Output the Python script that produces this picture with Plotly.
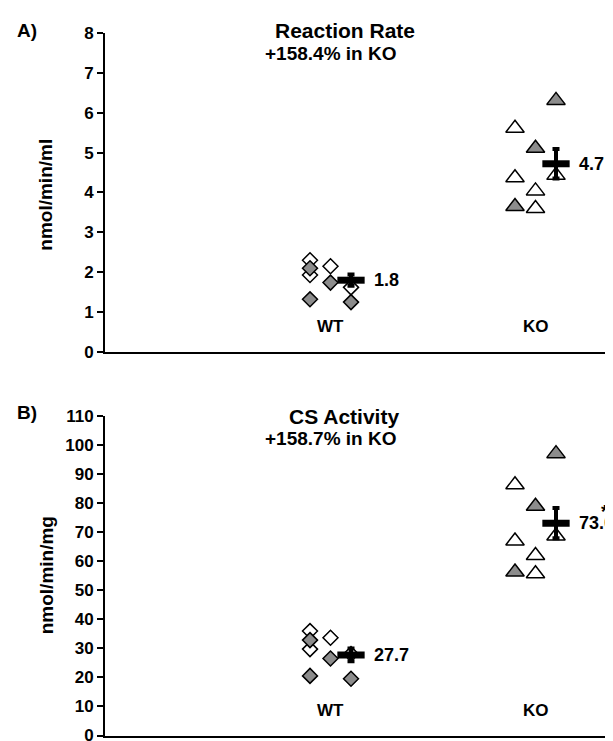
import plotly.graph_objects as go

# ---------------- data ----------------
groups = ["WT", "KO"]
group_x = [1.0, 2.0]          # scatter x of each group (Excel-style x axis starting at 0)

# Panel A: Reaction Rate (nmol/min/ml)
a_wt_open = [2.30, 1.93, 2.15, 1.62]
a_wt_open_slot = [0, 0, 1, 2]
a_wt_gray = [2.10, 1.32, 1.74, 1.25]
a_wt_gray_slot = [0, 0, 1, 2]
a_ko_open = [5.61, 4.37, 4.04, 3.60, 4.43]
a_ko_open_slot = [0, 0, 1, 1, 2]
a_ko_gray = [6.31, 5.11, 3.65]
a_ko_gray_slot = [2, 1, 0]
a_means = [1.8, 4.72]
a_mean_labels = ["1.8", "4.7"]
a_err = [0.14, 0.37]
a_title = "Reaction Rate"
a_change = "+158.4% in KO"
a_unit = "nmol/min/ml"

# Panel B: CS Activity (nmol/min/mg)
b_wt_open = [35.9, 29.7, 33.6, 28.0]
b_wt_open_slot = [0, 0, 1, 2]
b_wt_gray = [32.8, 20.5, 26.5, 19.5]
b_wt_gray_slot = [0, 0, 1, 2]
b_ko_open = [86.2, 66.9, 61.9, 55.6, 68.6]
b_ko_open_slot = [0, 0, 1, 1, 2]
b_ko_gray = [96.9, 78.8, 56.2]
b_ko_gray_slot = [2, 1, 0]
b_means = [27.7, 73.0]
b_mean_labels = ["27.7", "73.0"]
b_err = [2.2, 5.2]
b_title = "CS Activity"
b_change = "+158.7% in KO"
b_unit = "nmol/min/mg"

a_ticks = list(range(0, 9))
b_ticks = list(range(0, 111, 10))

# ---------------- styling ----------------
W, H = 613, 741
ML, MR, MT, MB = 97, 3, 25, 3
FONT = "Liberation Sans, Arial, sans-serif"
GRAY = "#8c8c8c"
JIT = 0.1
GX = dict(zip(groups, group_x))


def xs(group, slots):
    return [GX[group] + s * JIT for s in slots]


fig = go.Figure()


def add_points(group, vals, slots, fill, symbol, size, xa, ya):
    fig.add_trace(go.Scatter(
        x=xs(group, slots), y=vals, mode="markers", xaxis=xa, yaxis=ya,
        marker=dict(symbol=symbol, size=size, color=fill,
                    line=dict(color="black", width=1.5)),
        showlegend=False, hoverinfo="skip"))


def add_mean(means, errs, xa, ya):
    fig.add_trace(go.Scatter(
        x=[GX[g] + 2 * JIT for g in groups], y=means, mode="markers",
        xaxis=xa, yaxis=ya,
        marker=dict(symbol="line-ew", size=19.5, color="black",
                    line=dict(color="black", width=7)),
        error_y=dict(type="data", array=errs, visible=True,
                     color="black", thickness=4, width=3.5),
        showlegend=False, hoverinfo="skip"))


DIA, TRI = 11.5, 16
# Panel A
add_points("WT", a_wt_open, a_wt_open_slot, "white", "diamond", DIA, "x", "y")
add_points("WT", a_wt_gray, a_wt_gray_slot, GRAY, "diamond", DIA, "x", "y")
add_points("KO", a_ko_open, a_ko_open_slot, "white", "triangle-up", TRI, "x", "y")
add_points("KO", a_ko_gray, a_ko_gray_slot, GRAY, "triangle-up", TRI, "x", "y")
add_mean(a_means, a_err, "x", "y")

# Panel B
add_points("WT", b_wt_open, b_wt_open_slot, "white", "diamond", DIA, "x2", "y2")
add_points("WT", b_wt_gray, b_wt_gray_slot, GRAY, "diamond", DIA, "x2", "y2")
add_points("KO", b_ko_open, b_ko_open_slot, "white", "triangle-up", TRI, "x2", "y2")
add_points("KO", b_ko_gray, b_ko_gray_slot, GRAY, "triangle-up", TRI, "x2", "y2")
add_mean(b_means, b_err, "x2", "y2")

xr = [0, (W - ML - MR) / 205.0]
xcommon = dict(range=xr, showline=True, linecolor="black", linewidth=2,
               showticklabels=False, ticks="", showgrid=False, zeroline=False,
               fixedrange=True)
ycommon = dict(showline=True, linecolor="black", linewidth=2, ticks="outside",
               ticklen=6, tickwidth=2, tickcolor="black", showgrid=False,
               zeroline=False, tickfont=dict(family=FONT, size=17, color="black"))

ph = H - MT - MB
dom_a = [(H - MB - 348.5) / ph, 1.0]
dom_b = [(H - MB - 737.5) / ph, (H - MB - 413) / ph]

fig.update_layout(
    width=W, height=H,
    margin=dict(l=ML, r=MR, t=MT, b=MB),
    plot_bgcolor="white", paper_bgcolor="white",
    font=dict(family=FONT, color="black"),
    xaxis=dict(domain=[0, 1], anchor="y", **xcommon),
    xaxis2=dict(domain=[0, 1], anchor="y2", **xcommon),
    yaxis=dict(domain=dom_a, anchor="x", range=[0, 8], tickvals=a_ticks,
               ticktext=[f"<b>{t}</b>" for t in a_ticks], **ycommon),
    yaxis2=dict(domain=dom_b, anchor="x2", range=[0, 110], tickvals=b_ticks,
                ticktext=[f"<b>{t}</b>" for t in b_ticks], **ycommon),
)

ann = []


def px_ann(x, y, text, size, angle=0):
    ann.append(dict(x=(x - ML) / (W - ML - MR), y=(H - MB - y) / ph,
                    xref="paper", yref="paper", text=f"<b>{text}</b>",
                    xanchor="center", yanchor="middle", textangle=angle,
                    showarrow=False, font=dict(family=FONT, size=size)))


# group labels
for xa, ya, yv in (("x", "y", 0.63), ("x2", "y2", 8.6)):
    for g in groups:
        ann.append(dict(x=GX[g] + JIT, y=yv, xref=xa, yref=ya, text=f"<b>{g}</b>",
                        showarrow=False, xanchor="center", yanchor="middle",
                        font=dict(family=FONT, size=17)))
# mean labels
for xa, ya, means, labs in (("x", "y", a_means, a_mean_labels),
                            ("x2", "y2", b_means, b_mean_labels)):
    for g, m, lab in zip(groups, means, labs):
        ann.append(dict(x=GX[g] + 2 * JIT + 0.1, y=m, xref=xa, yref=ya,
                        text=f"<b>{lab}</b>", showarrow=False, xanchor="left",
                        yanchor="middle", font=dict(family=FONT, size=18)))
# significance asterisks
ann.append(dict(x=2.465, y=5.0, xref="x", yref="y", text="<b>*</b>",
                showarrow=False, xanchor="center", yanchor="middle",
                font=dict(family=FONT, size=19)))
ann.append(dict(x=2.44, y=77.0, xref="x2", yref="y2", text="<b>*</b>",
                showarrow=False, xanchor="center", yanchor="middle",
                font=dict(family=FONT, size=19)))

# titles, panel letters and axis titles
px_ann(337, 22, a_title, 21)
px_ann(322, 46, a_change, 19)
px_ann(336, 414, b_title, 21)
px_ann(322, 436, b_change, 19)
px_ann(19, 22, "A)", 19)
px_ann(19, 410, "B)", 19)
px_ann(38, 189, a_unit, 19, -90)
px_ann(38, 575, b_unit, 19, -90)

fig.update_layout(annotations=ann)
fig.write_html("out.html")
